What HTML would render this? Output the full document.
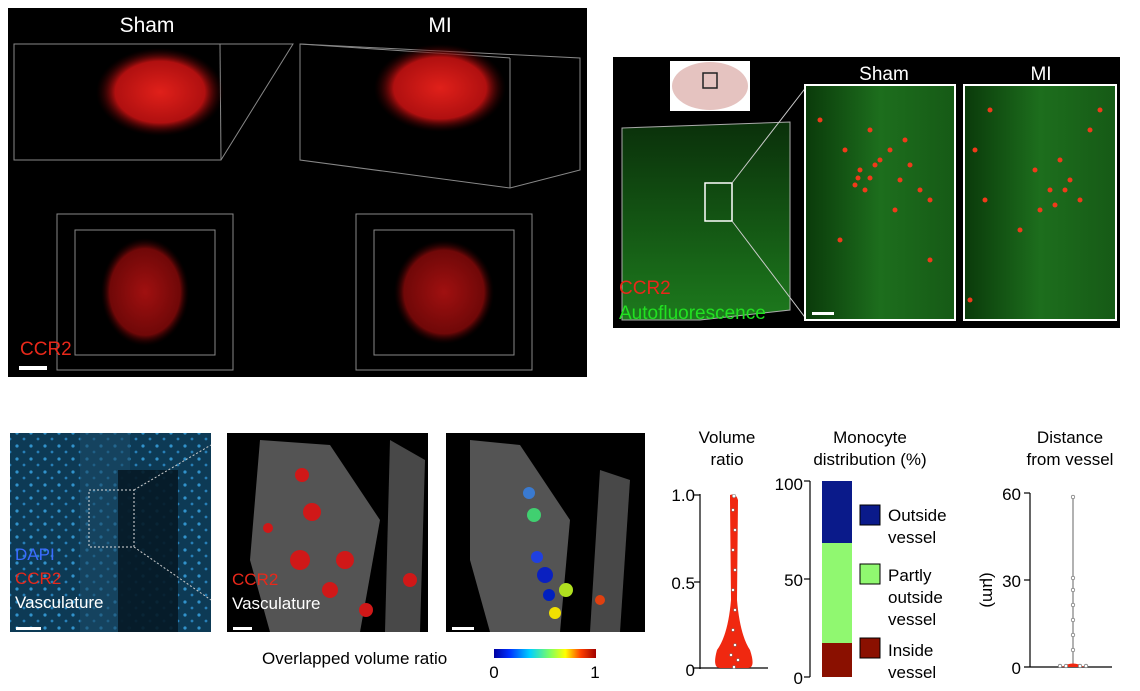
<!DOCTYPE html>
<html><head><meta charset="utf-8"><style>
body{margin:0;background:#fff;}
svg{display:block;font-family:"Liberation Sans",sans-serif;}
</style></head><body>
<svg width="1140" height="691" viewBox="0 0 1140 691" xmlns="http://www.w3.org/2000/svg">
<defs>
<radialGradient id="rb" cx="50%" cy="50%" r="50%"><stop offset="0" stop-color="#e0201a"/><stop offset="0.7" stop-color="#b01010"/><stop offset="1" stop-color="#300000" stop-opacity="0"/></radialGradient>
<radialGradient id="rb2" cx="50%" cy="50%" r="50%"><stop offset="0" stop-color="#a01010"/><stop offset="0.8" stop-color="#700808"/><stop offset="1" stop-color="#200000" stop-opacity="0"/></radialGradient>
<linearGradient id="gr" x1="0" y1="0" x2="0" y2="1"><stop offset="0" stop-color="#0a300a"/><stop offset="1" stop-color="#1d7a1d"/></linearGradient>
<linearGradient id="gp" x1="0" x2="1"><stop offset="0" stop-color="#0a3a0a"/><stop offset="0.5" stop-color="#1d6e1d"/><stop offset="1" stop-color="#165a16"/></linearGradient>
<linearGradient id="cb" x1="0" x2="1"><stop offset="0" stop-color="#0000a0"/><stop offset="0.15" stop-color="#0030ff"/><stop offset="0.35" stop-color="#00d0ff"/><stop offset="0.55" stop-color="#80ff60"/><stop offset="0.7" stop-color="#ffff00"/><stop offset="0.85" stop-color="#ff4000"/><stop offset="1" stop-color="#a00000"/></linearGradient>
<pattern id="dots" width="14" height="13" patternUnits="userSpaceOnUse"><circle cx="3" cy="4" r="1.6" fill="#3aa8e8"/><circle cx="10" cy="10" r="1.4" fill="#2e90d0"/></pattern>
</defs>
<!-- Top left panel -->
<rect x="8" y="8" width="579" height="369" fill="#000"/>
<text x="147" y="32" fill="#fff" font-size="21" text-anchor="middle">Sham</text>
<text x="440" y="32" fill="#fff" font-size="21" text-anchor="middle">MI</text>
<g fill="none" stroke="#888" stroke-width="1">
<polygon points="14,44 220,44 293,44 221,160 14,160"/><line x1="14" y1="44" x2="80" y2="44"/><line x1="220" y1="44" x2="221" y2="160"/>
<polygon points="300,44 580,58 580,170 510,188 300,160"/><line x1="300" y1="44" x2="510" y2="58"/><line x1="510" y1="58" x2="510" y2="188"/>
<rect x="57" y="214" width="176" height="156"/><rect x="75" y="230" width="140" height="125"/>
<rect x="356" y="214" width="176" height="156"/><rect x="374" y="230" width="140" height="125"/>
</g>
<ellipse cx="160" cy="92" rx="64" ry="44" fill="url(#rb)"/>
<ellipse cx="440" cy="88" rx="66" ry="44" fill="url(#rb)"/>
<ellipse cx="145" cy="292" rx="44" ry="54" fill="url(#rb2)"/>
<ellipse cx="444" cy="292" rx="50" ry="52" fill="url(#rb2)"/>
<text x="20" y="355" fill="#e8281a" font-size="19">CCR2</text>
<rect x="19" y="366" width="28" height="4" fill="#fff"/>
<!-- Top right panel -->
<rect x="613" y="57" width="507" height="271" fill="#000"/>
<rect x="670" y="61" width="80" height="50" fill="#fff"/>
<ellipse cx="710" cy="86" rx="38" ry="24" fill="#e5c3c0"/>
<rect x="703" y="73" width="14" height="15" fill="none" stroke="#222" stroke-width="1.5"/>
<polygon points="622,128 790,122 790,310 700,320 622,320" fill="url(#gr)" stroke="#aaa" stroke-width="1"/>
<rect x="705" y="183" width="27" height="38" fill="none" stroke="#fff" stroke-width="1.5"/>
<line x1="732" y1="183" x2="807" y2="86" stroke="#ccc"/><line x1="732" y1="221" x2="807" y2="320" stroke="#ccc"/>
<text x="619" y="294" fill="#e8281a" font-size="19">CCR2</text>
<text x="619" y="319" fill="#22e022" font-size="19">Autofluorescence</text>
<text x="884" y="80" fill="#fff" font-size="19" text-anchor="middle">Sham</text>
<text x="1041" y="80" fill="#fff" font-size="19" text-anchor="middle">MI</text>
<rect x="805" y="85" width="150" height="235" fill="url(#gp)" stroke="#fff" stroke-width="2"/>
<rect x="964" y="85" width="152" height="235" fill="url(#gp)" stroke="#fff" stroke-width="2"/>
<g fill="#f03a1a">
<circle cx="905" cy="140" r="2.5"/><circle cx="880" cy="160" r="2.5"/><circle cx="860" cy="170" r="2.5"/><circle cx="870" cy="178" r="2.5"/><circle cx="890" cy="150" r="2.5"/><circle cx="900" cy="180" r="2.5"/><circle cx="855" cy="185" r="2.5"/><circle cx="920" cy="190" r="2.5"/><circle cx="930" cy="200" r="2.5"/><circle cx="845" cy="150" r="2.5"/><circle cx="895" cy="210" r="2.5"/><circle cx="840" cy="240" r="2.5"/><circle cx="930" cy="260" r="2.5"/><circle cx="820" cy="120" r="2.5"/><circle cx="870" cy="130" r="2.5"/><circle cx="910" cy="165" r="2.5"/><circle cx="865" cy="190" r="2.5"/><circle cx="875" cy="165" r="2.5"/><circle cx="858" cy="178" r="2.5"/>
<circle cx="1035" cy="170" r="2.5"/><circle cx="1050" cy="190" r="2.5"/><circle cx="1060" cy="160" r="2.5"/><circle cx="1100" cy="110" r="2.5"/><circle cx="1090" cy="130" r="2.5"/><circle cx="975" cy="150" r="2.5"/><circle cx="985" cy="200" r="2.5"/><circle cx="1040" cy="210" r="2.5"/><circle cx="1070" cy="180" r="2.5"/><circle cx="1020" cy="230" r="2.5"/><circle cx="1080" cy="200" r="2.5"/><circle cx="970" cy="300" r="2.5"/><circle cx="990" cy="110" r="2.5"/><circle cx="1055" cy="205" r="2.5"/><circle cx="1065" cy="190" r="2.5"/>
</g>
<rect x="812" y="312" width="22" height="3" fill="#fff"/>
<!-- bottom images -->
<rect x="10" y="433" width="201" height="199" fill="#0d3a55"/>
<rect x="10" y="433" width="201" height="199" fill="url(#dots)" opacity="0.8"/>
<rect x="80" y="433" width="50" height="199" fill="#1a4a66" opacity="0.6"/>
<rect x="118" y="470" width="60" height="162" fill="#061a26" opacity="0.9"/>
<rect x="89" y="490" width="45" height="57" fill="none" stroke="#ddd" stroke-dasharray="2,2"/>
<line x1="134" y1="490" x2="211" y2="445" stroke="#ccc" stroke-dasharray="2,2"/><line x1="134" y1="547" x2="211" y2="600" stroke="#ccc" stroke-dasharray="2,2"/>
<text x="15" y="560" fill="#3a6cff" font-size="17">DAPI</text>
<text x="15" y="584" fill="#e8281a" font-size="17">CCR2</text>
<text x="15" y="608" fill="#fff" font-size="17">Vasculature</text>
<rect x="16" y="627" width="25" height="3" fill="#fff"/>
<rect x="227" y="433" width="201" height="199" fill="#000"/>
<path d="M260 440 L330 445 L380 520 L360 632 L270 632 L250 560 Z" fill="#777" opacity="0.7"/>
<path d="M390 440 L425 460 L420 632 L385 632 Z" fill="#666" opacity="0.7"/>
<g fill="#d01818"><circle cx="312" cy="512" r="9"/><circle cx="345" cy="560" r="9"/><circle cx="300" cy="560" r="10"/><circle cx="330" cy="590" r="8"/><circle cx="410" cy="580" r="7"/><circle cx="268" cy="528" r="5"/><circle cx="302" cy="475" r="7"/><circle cx="366" cy="610" r="7"/></g>
<text x="232" y="585" fill="#e8281a" font-size="17">CCR2</text>
<text x="232" y="609" fill="#fff" font-size="17">Vasculature</text>
<rect x="233" y="627" width="19" height="3" fill="#fff"/>
<rect x="446" y="433" width="199" height="199" fill="#000"/>
<path d="M470 440 L520 445 L570 520 L560 632 L490 632 L470 560 Z" fill="#777" opacity="0.7"/>
<path d="M600 470 L630 480 L620 632 L590 632 Z" fill="#666" opacity="0.7"/>
<circle cx="529" cy="493" r="6" fill="#3a7ad0"/><circle cx="534" cy="515" r="7" fill="#40d070"/><circle cx="545" cy="575" r="8" fill="#0a20c0"/><circle cx="549" cy="595" r="6" fill="#0020c0"/><circle cx="566" cy="590" r="7" fill="#b0e020"/><circle cx="555" cy="613" r="6" fill="#f0e000"/><circle cx="600" cy="600" r="5" fill="#e04010"/><circle cx="537" cy="557" r="6" fill="#2040e0"/>
<rect x="452" y="627" width="22" height="3" fill="#fff"/>
<text x="262" y="664" font-size="17" fill="#000">Overlapped volume ratio</text>
<rect x="494" y="649" width="102" height="9" fill="url(#cb)"/>
<text x="494" y="678" font-size="17" text-anchor="middle">0</text>
<text x="595" y="678" font-size="17" text-anchor="middle">1</text>
<!-- charts -->
<g font-size="17" fill="#000">
<text x="727" y="443" text-anchor="middle">Volume</text><text x="727" y="465" text-anchor="middle">ratio</text>
<text x="870" y="443" text-anchor="middle">Monocyte</text><text x="870" y="465" text-anchor="middle">distribution (%)</text>
<text x="1070" y="443" text-anchor="middle">Distance</text><text x="1070" y="465" text-anchor="middle">from vessel</text>
<text x="695" y="501" text-anchor="end">1.0</text><text x="695" y="589" text-anchor="end">0.5</text><text x="695" y="676" text-anchor="end">0</text>
<text x="803" y="490" text-anchor="end">100</text><text x="803" y="586" text-anchor="end">50</text><text x="803" y="684" text-anchor="end">0</text>
<text x="1021" y="500" text-anchor="end">60</text><text x="1021" y="587" text-anchor="end">30</text><text x="1021" y="674" text-anchor="end">0</text>
<text x="888" y="521">Outside</text><text x="888" y="543">vessel</text>
<text x="888" y="581">Partly</text><text x="888" y="603">outside</text><text x="888" y="625">vessel</text>
<text x="888" y="656">Inside</text><text x="888" y="678">vessel</text>
<text transform="translate(983,590) rotate(90)" text-anchor="middle">(µm)</text>
</g>
<g stroke="#000" stroke-width="1.2" fill="none">
<line x1="700" y1="494" x2="700" y2="669"/><line x1="694" y1="495" x2="700" y2="495"/><line x1="694" y1="582" x2="700" y2="582"/><line x1="694" y1="668" x2="768" y2="668"/>
<line x1="810" y1="481" x2="810" y2="677"/><line x1="804" y1="481" x2="810" y2="481"/><line x1="804" y1="579" x2="810" y2="579"/><line x1="804" y1="677" x2="810" y2="677"/>
<line x1="1030" y1="493" x2="1030" y2="667"/><line x1="1024" y1="493" x2="1030" y2="493"/><line x1="1024" y1="580" x2="1030" y2="580"/><line x1="1024" y1="667" x2="1112" y2="667"/>
</g>
<path d="M730 495 Q736 493 738 500 L737 600 Q740 635 750 650 Q756 668 748 668 L720 668 Q712 668 717 650 Q728 635 731 600 L730 500 Z" fill="#f02810"/>
<g fill="#fff" stroke="#666" stroke-width="0.5">
<circle cx="734" cy="496" r="1.8"/><circle cx="733" cy="510" r="1.5"/><circle cx="735" cy="530" r="1.5"/><circle cx="733" cy="550" r="1.5"/><circle cx="735" cy="570" r="1.5"/><circle cx="733" cy="590" r="1.5"/><circle cx="735" cy="610" r="1.5"/><circle cx="733" cy="630" r="1.5"/><circle cx="735" cy="645" r="1.5"/><circle cx="731" cy="655" r="1.5"/><circle cx="738" cy="660" r="1.5"/><circle cx="734" cy="667" r="1.5"/>
</g>
<rect x="822" y="481" width="30" height="62" fill="#0a1a8a"/>
<rect x="822" y="543" width="30" height="100" fill="#90f870"/>
<rect x="822" y="643" width="30" height="34" fill="#8a1000"/>
<rect x="860" y="505" width="20" height="20" fill="#0a1a8a" stroke="#000"/>
<rect x="860" y="564" width="20" height="20" fill="#90f870" stroke="#000"/>
<rect x="860" y="638" width="20" height="20" fill="#8a1000" stroke="#000"/>
<line x1="1073" y1="497" x2="1073" y2="667" stroke="#666"/>
<path d="M1062 667 Q1073 660 1084 667 Z" fill="#f02810"/>
<g fill="#fff" stroke="#555" stroke-width="0.6">
<circle cx="1073" cy="497" r="1.8"/><circle cx="1073" cy="578" r="1.8"/><circle cx="1073" cy="590" r="1.8"/><circle cx="1073" cy="605" r="1.8"/><circle cx="1073" cy="620" r="1.8"/><circle cx="1073" cy="635" r="1.8"/><circle cx="1073" cy="650" r="1.8"/><circle cx="1060" cy="666" r="1.8"/><circle cx="1066" cy="666" r="1.8"/><circle cx="1080" cy="666" r="1.8"/><circle cx="1086" cy="666" r="1.8"/>
</g>
</svg>
</body></html>
